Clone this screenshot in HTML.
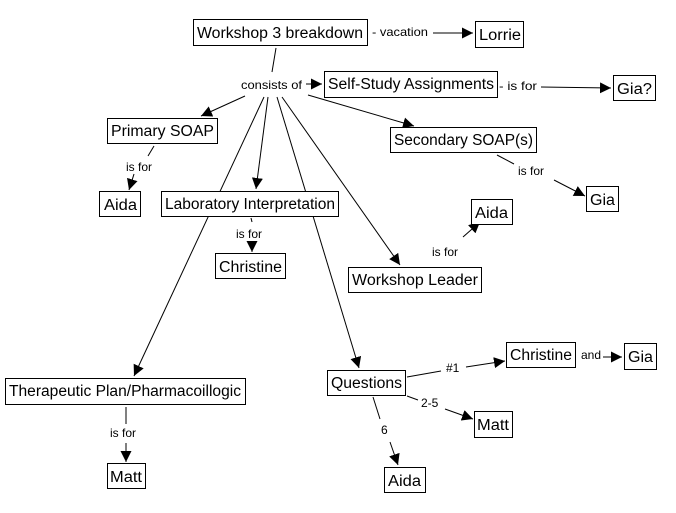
<!DOCTYPE html>
<html><head><meta charset="utf-8"><style>
html,body{margin:0;padding:0;background:#fff}
svg{display:block}
.n{font-family:"Liberation Sans",sans-serif;font-size:15.5px;fill:#000}
.l{font-family:"Liberation Sans",sans-serif;font-size:12px;fill:#000}
rect{fill:#fff;stroke:#000;stroke-width:1}
line{stroke:#000;stroke-width:1}
</style></head><body>
<svg width="676" height="513" viewBox="0 0 676 513" xmlns="http://www.w3.org/2000/svg">
<defs><marker id="a" viewBox="0 0 10 10" refX="10" refY="5" markerWidth="11" markerHeight="11" markerUnits="userSpaceOnUse" orient="auto"><path d="M0,0L10,5L0,10z" fill="#000"/></marker></defs>
<line x1="276" y1="48" x2="272" y2="72"/>
<line x1="433" y1="33" x2="473" y2="33" marker-end="url(#a)"/>
<line x1="306" y1="84" x2="322" y2="84" marker-end="url(#a)"/>
<line x1="541" y1="87" x2="611" y2="88" marker-end="url(#a)"/>
<line x1="245" y1="96" x2="201" y2="116" marker-end="url(#a)"/>
<line x1="308" y1="95" x2="414" y2="126" marker-end="url(#a)"/>
<line x1="268" y1="97" x2="256" y2="189" marker-end="url(#a)"/>
<line x1="264" y1="97" x2="134" y2="376" marker-end="url(#a)"/>
<line x1="277" y1="97" x2="359" y2="368" marker-end="url(#a)"/>
<line x1="282" y1="97" x2="400" y2="265" marker-end="url(#a)"/>
<line x1="154" y1="146" x2="148" y2="156"/>
<line x1="134" y1="174" x2="129" y2="190" marker-end="url(#a)"/>
<line x1="497" y1="155" x2="514" y2="164"/>
<line x1="554" y1="180" x2="585" y2="196" marker-end="url(#a)"/>
<line x1="251" y1="218" x2="252" y2="222"/>
<line x1="252" y1="243" x2="252" y2="252" marker-end="url(#a)"/>
<line x1="463" y1="237" x2="480" y2="222" marker-end="url(#a)"/>
<line x1="126" y1="407" x2="126" y2="424"/>
<line x1="126" y1="443" x2="126" y2="462" marker-end="url(#a)"/>
<line x1="407" y1="377" x2="441" y2="371"/>
<line x1="466" y1="367" x2="505" y2="361" marker-end="url(#a)"/>
<line x1="603" y1="357" x2="622" y2="357" marker-end="url(#a)"/>
<line x1="407" y1="396" x2="418" y2="400"/>
<line x1="445" y1="409" x2="473" y2="419" marker-end="url(#a)"/>
<line x1="373" y1="397" x2="380" y2="419"/>
<line x1="390" y1="442" x2="398" y2="465" marker-end="url(#a)"/>
<rect x="193.5" y="19.5" width="174" height="26"/><text class="n" x="197" y="38" textLength="166" lengthAdjust="spacingAndGlyphs">Workshop 3 breakdown</text>
<rect x="475.5" y="21.5" width="48" height="26"/><text class="n" x="479" y="40" textLength="42" lengthAdjust="spacingAndGlyphs">Lorrie</text>
<rect x="324.5" y="71.5" width="173" height="26"/><text class="n" x="328" y="89" textLength="166" lengthAdjust="spacingAndGlyphs">Self-Study Assignments</text>
<rect x="613.5" y="75.5" width="42" height="25"/><text class="n" x="617" y="94" textLength="35" lengthAdjust="spacingAndGlyphs">Gia?</text>
<rect x="107.5" y="118.5" width="110" height="25"/><text class="n" x="111" y="136" textLength="103" lengthAdjust="spacingAndGlyphs">Primary SOAP</text>
<rect x="390.5" y="127.5" width="146" height="25"/><text class="n" x="394" y="145" textLength="139" lengthAdjust="spacingAndGlyphs">Secondary SOAP(s)</text>
<rect x="586.5" y="186.5" width="32" height="25"/><text class="n" x="590" y="205" textLength="25" lengthAdjust="spacingAndGlyphs">Gia</text>
<rect x="99.5" y="191.5" width="41" height="25"/><text class="n" x="104" y="210" textLength="33" lengthAdjust="spacingAndGlyphs">Aida</text>
<rect x="161.5" y="191.5" width="177" height="25"/><text class="n" x="165" y="209" textLength="170" lengthAdjust="spacingAndGlyphs">Laboratory Interpretation</text>
<rect x="471.5" y="199.5" width="41" height="25"/><text class="n" x="475" y="218" textLength="33" lengthAdjust="spacingAndGlyphs">Aida</text>
<rect x="215.5" y="253.5" width="70" height="25"/><text class="n" x="219" y="272" textLength="63" lengthAdjust="spacingAndGlyphs">Christine</text>
<rect x="348.5" y="267.5" width="133" height="25"/><text class="n" x="352" y="285" textLength="126" lengthAdjust="spacingAndGlyphs">Workshop Leader</text>
<rect x="5.5" y="378.5" width="240" height="26"/><text class="n" x="9" y="396" textLength="232" lengthAdjust="spacingAndGlyphs">Therapeutic Plan/Pharmacoillogic</text>
<rect x="327.5" y="370.5" width="78" height="25"/><text class="n" x="331" y="388" textLength="71" lengthAdjust="spacingAndGlyphs">Questions</text>
<rect x="506.5" y="342.5" width="69" height="25"/><text class="n" x="510" y="360" textLength="62" lengthAdjust="spacingAndGlyphs">Christine</text>
<rect x="624.5" y="343.5" width="32" height="26"/><text class="n" x="628" y="362" textLength="25" lengthAdjust="spacingAndGlyphs">Gia</text>
<rect x="474.5" y="411.5" width="38" height="26"/><text class="n" x="477" y="430" textLength="32" lengthAdjust="spacingAndGlyphs">Matt</text>
<rect x="107.5" y="463.5" width="38" height="25"/><text class="n" x="110" y="482" textLength="32" lengthAdjust="spacingAndGlyphs">Matt</text>
<rect x="384.5" y="467.5" width="41" height="25"/><text class="n" x="388" y="486" textLength="33" lengthAdjust="spacingAndGlyphs">Aida</text>
<text class="l" x="372" y="36" textLength="56" lengthAdjust="spacingAndGlyphs">- vacation</text>
<text class="l" x="241" y="89" textLength="61" lengthAdjust="spacingAndGlyphs">consists of</text>
<text class="l" x="499" y="90" textLength="38" lengthAdjust="spacingAndGlyphs">- is for</text>
<text class="l" x="126" y="171">is for</text>
<text class="l" x="518" y="175">is for</text>
<text class="l" x="236" y="238">is for</text>
<text class="l" x="432" y="256">is for</text>
<text class="l" x="110" y="437">is for</text>
<text class="l" x="446" y="372">#1</text>
<text class="l" x="581" y="359">and</text>
<text class="l" x="421" y="407">2-5</text>
<text class="l" x="381" y="434">6</text>
</svg>
</body></html>
